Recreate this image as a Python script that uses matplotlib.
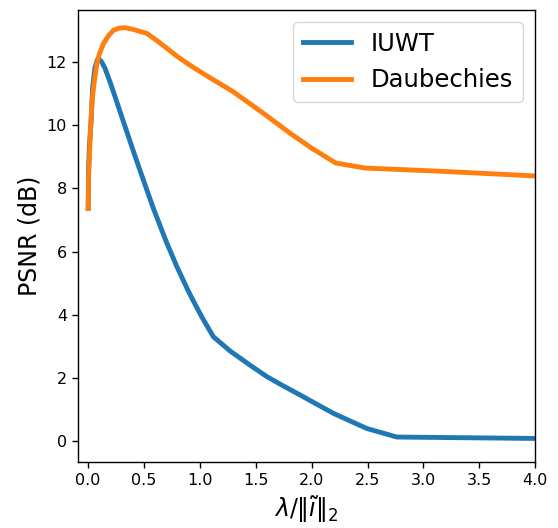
import matplotlib
matplotlib.use("Agg")
from matplotlib import pyplot as plt

# PSNR against normalised regularisation weight
iuwt_lam = [0.0, 0.004, 0.01, 0.027, 0.04, 0.06, 0.08, 0.092, 0.12, 0.15, 0.197,
            0.25, 0.3, 0.4, 0.5, 0.585, 0.7, 0.794, 0.9, 0.973, 1.03, 1.121,
            1.271, 1.45, 1.6, 1.75, 1.897, 2.05, 2.195, 2.35, 2.494, 2.762, 4.0]
iuwt_psnr = [7.36, 8.6, 9.3, 10.16, 11.2, 11.8, 12.05, 12.11, 12.0, 11.8, 11.35,
             10.8, 10.27, 9.22, 8.2, 7.35, 6.3, 5.52, 4.72, 4.22, 3.85, 3.3,
             2.85, 2.4, 2.04, 1.74, 1.46, 1.16, 0.88, 0.63, 0.40, 0.13, 0.085]

daub_lam = [0.0, 0.004, 0.012, 0.02, 0.033, 0.05, 0.078, 0.1, 0.137, 0.18, 0.226,
            0.28, 0.331, 0.4, 0.525, 0.62, 0.704, 0.794, 0.9, 1.002, 1.15, 1.3,
            1.569, 1.808, 2.0, 2.215, 2.48, 3.15, 4.0]
daub_psnr = [7.36, 8.4, 9.1, 9.8, 10.69, 11.25, 11.95, 12.25, 12.58, 12.82, 13.0,
             13.07, 13.08, 13.03, 12.9, 12.66, 12.43, 12.18, 11.92, 11.69, 11.37, 11.05,
             10.37, 9.74, 9.27, 8.8, 8.64, 8.54, 8.39]

fig = plt.figure(figsize=(5.58, 5.28), dpi=100)
ax = fig.add_axes([0.14, 0.125, 0.819, 0.856])
ax.plot(iuwt_lam, iuwt_psnr, linewidth=3.5, label="IUWT")
ax.plot(daub_lam, daub_psnr, linewidth=3.5, label="Daubechies")
ax.set_xlim(-0.09, 4.0)
ax.set_ylim(-0.66, 13.64)
ax.tick_params(labelsize=11.5, length=4.5, width=1.0)
for s in ax.spines.values():
    s.set_linewidth(1.0)
ax.set_xlabel(r"$\lambda/\|\tilde{\imath}\|_2$", fontsize=17)
ax.set_ylabel("PSNR (dB)", fontsize=17)
ax.legend(loc="upper right", fontsize=17.5)
fig.savefig("out.png", dpi=100)
